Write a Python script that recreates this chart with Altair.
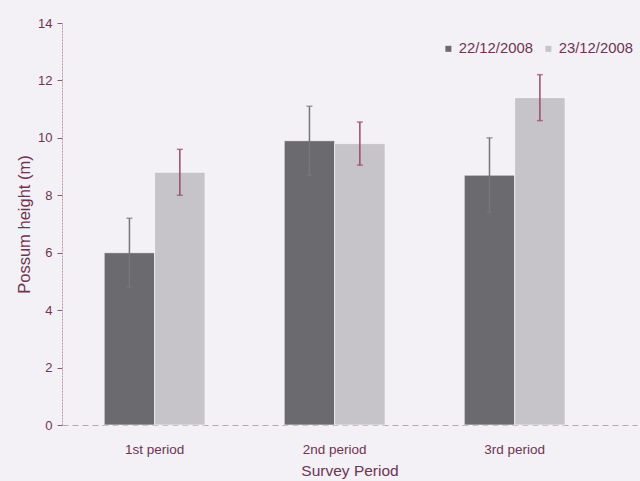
import altair as alt
import pandas as pd

periods = ["1st period", "2nd period", "3rd period"]
dates = ["22/12/2008", "23/12/2008"]
heights_d1 = [6.0, 9.9, 8.7]
heights_d2 = [8.8, 9.8, 11.4]
err_d1 = [1.2, 1.2, 1.3]
err_d2 = [0.8, 0.75, 0.8]

rows = []
for i, p in enumerate(periods):
    rows.append({"period": p, "date": dates[0], "h": heights_d1[i],
                 "lo": heights_d1[i] - err_d1[i], "hi": heights_d1[i] + err_d1[i]})
    rows.append({"period": p, "date": dates[1], "h": heights_d2[i],
                 "lo": heights_d2[i] - err_d2[i], "hi": heights_d2[i] + err_d2[i]})
df = pd.DataFrame(rows)

TXT = "#6e3550"
FONT = "Liberation Sans"
xscale = alt.Scale(paddingInner=0.44, paddingOuter=0.317, align=0.37)
xenc = alt.X("period:N", scale=xscale, sort=periods,
             axis=alt.Axis(title="Survey Period", labelAngle=0, tickSize=0,
                           labelPadding=17, titlePadding=8, labelFontSize=13.5,
                           titleFontSize=15.5, labelColor=TXT, titleColor=TXT,
                           domainColor="#b7a6b2", domainDash=[6, 4],
                           titleFontWeight="normal", labelFont=FONT,
                           titleFont=FONT))
yscale = alt.Scale(domain=[0, 14], nice=False)
yaxis = alt.Axis(title="Possum height (m)", values=[0, 2, 4, 6, 8, 10, 12, 14],
                 tickSize=5, tickColor="#8a5a70", domainColor="#b79aaa",
                 domainDash=[2, 1], grid=False, labelFontSize=13, labelColor=TXT,
                 labelFontWeight="normal", titleFontSize=16.5, titleColor=TXT,
                 titleFontWeight="normal", titlePadding=5, labelPadding=5,
                 labelFont=FONT, titleFont=FONT)

color = alt.Color("date:N", sort=dates,
                  scale=alt.Scale(domain=dates, range=["#6b6a6e", "#c6c4c9"]),
                  legend=alt.Legend(orient="none", legendX=379, legendY=18,
                                    direction="horizontal", title=None,
                                    symbolType="square", symbolSize=36,
                                    labelFontSize=14.8, labelColor=TXT,
                                    labelFont=FONT, columnPadding=8, labelOffset=3,
                                    labelLimit=200, symbolStrokeWidth=0))

base = alt.Chart(df).encode(x=xenc, xOffset=alt.XOffset("date:N", sort=dates))

bars = base.mark_bar(stroke="#ffffff", strokeWidth=1, strokeOpacity=0.6).encode(
    y=alt.Y("h:Q", scale=yscale, axis=yaxis), color=color)

ecolor = alt.Color("date:N", scale=alt.Scale(domain=dates, range=["#777777", "#9c4a6a"]),
                   legend=None)
rules = base.mark_rule(strokeWidth=1.5).encode(
    y=alt.Y("lo:Q", scale=yscale), y2="hi:Q", color=ecolor)
caps_hi = base.mark_tick(orient="horizontal", size=6, thickness=1.5).encode(
    y=alt.Y("hi:Q", scale=yscale), color=ecolor)
caps_lo = base.mark_tick(orient="horizontal", size=6, thickness=1.5).encode(
    y=alt.Y("lo:Q", scale=yscale), color=ecolor)

chart = alt.layer(bars, rules, caps_hi, caps_lo).resolve_scale(color="independent").properties(
    width=575, height=402,
    autosize=alt.AutoSizeParams(type="none"),
    padding={"left": 62, "top": 23, "right": 3, "bottom": 56},
    background="#f3f0f6",
).configure_view(stroke=None)

chart.save("out.html", embed_options={"renderer": "svg", "actions": False})
